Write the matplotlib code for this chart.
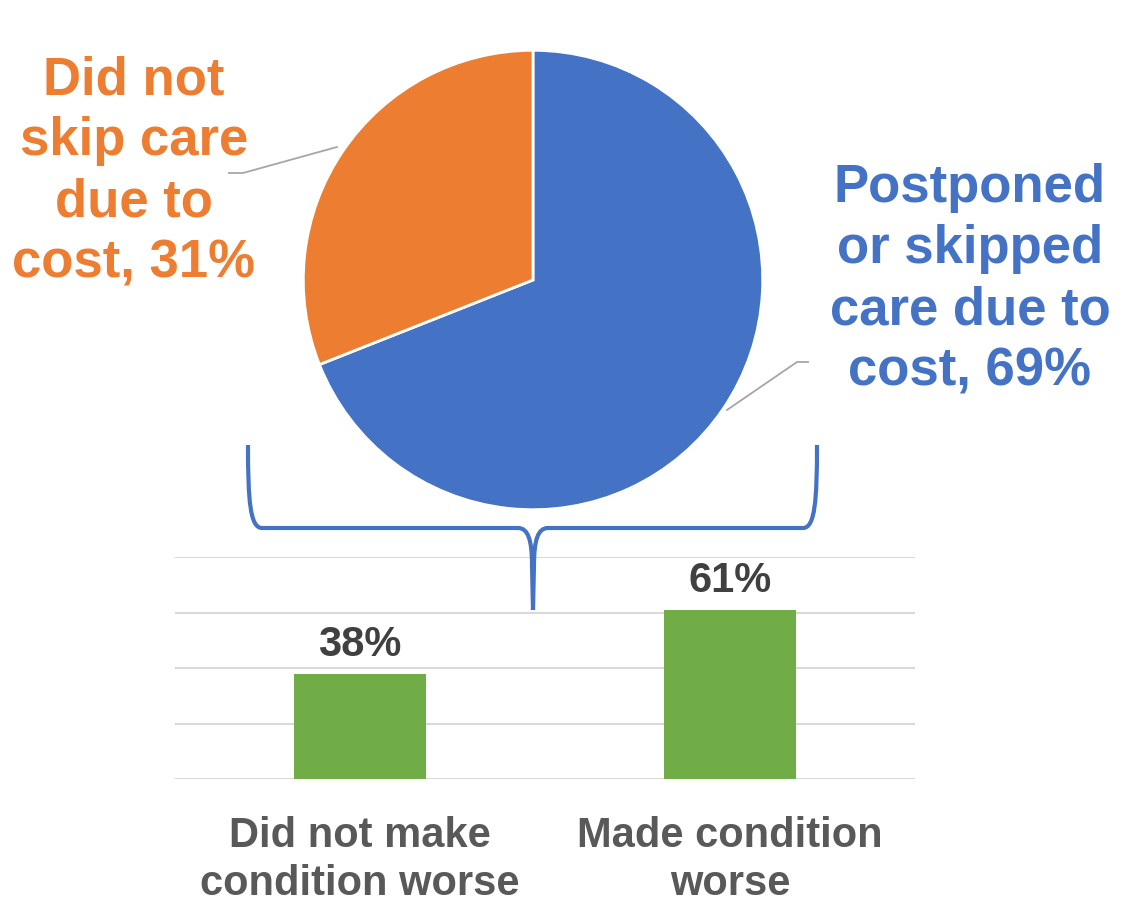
import numpy as np
import matplotlib
matplotlib.use("Agg")
import matplotlib.pyplot as plt
from matplotlib.path import Path
from matplotlib.patches import PathPatch
from matplotlib.lines import Line2D

# data
pie_labels = ["Postponed\nor skipped\ncare due to\ncost, 69%",
              "Did not\nskip care\ndue to\ncost, 31%"]
pie_values = [69, 31]
bar_categories = ["Did not make\ncondition worse", "Made condition\nworse"]
bar_values = [38, 61]
bar_text = ["38%", "61%"]

BLUE = "#4472C4"
ORANGE = "#ED7D31"
GREEN = "#70AD47"
GRID = "#D9D9D9"
LEADER = "#A6A6A6"
W, H = 1128, 902

plt.rcParams["font.family"] = ["Liberation Sans", "DejaVu Sans"]
fig = plt.figure(figsize=(W / 100, H / 100), dpi=100)


def px(x, y):
    return (x / W, 1 - y / H)


# pie
cx, cy, r = 533, 280, 232
ax_p = fig.add_axes([(cx - r) / W, 1 - (cy + r) / H, 2 * r / W, 2 * r / H])
ax_p.pie(pie_values, colors=[BLUE, ORANGE], startangle=90, counterclock=False,
         radius=1.0, wedgeprops=dict(edgecolor="white", linewidth=2))
ax_p.set_xlim(-1.01, 1.01)
ax_p.set_ylim(-1.01, 1.01)
ax_p.axis("off")

fig.text(*px(970, 280), pie_labels[0], color=BLUE, fontsize=38,
         fontweight="bold", ha="center", va="center", linespacing=1.29)
fig.text(*px(134, 172), pie_labels[1], color=ORANGE, fontsize=38,
         fontweight="bold", ha="center", va="center", linespacing=1.29)

for pts in ([(229, 173), (243, 173), (337, 147)],
            [(808, 362), (797, 362), (727, 410)]):
    xs, ys = zip(*[px(*p) for p in pts])
    fig.add_artist(Line2D(xs, ys, color=LEADER, lw=1.3,
                          transform=fig.transFigure))

# bracket
verts = [(248, 445), (248, 500), (250, 528), (262, 528),
         (518, 528),
         (528, 528), (532, 540), (532, 565),
         (533, 610)]
codes = [Path.MOVETO, Path.CURVE4, Path.CURVE4, Path.CURVE4,
         Path.LINETO,
         Path.CURVE4, Path.CURVE4, Path.CURVE4,
         Path.LINETO]
verts_r = [(817, 445), (817, 500), (815, 528), (803, 528),
           (548, 528),
           (538, 528), (534, 540), (534, 565),
           (533, 610)]
for vv in (verts, verts_r):
    path = Path([px(*p) for p in vv], codes)
    fig.add_artist(PathPatch(path, fill=False, edgecolor=BLUE, lw=3,
                             transform=fig.transFigure, capstyle="butt"))

# bars
ax_b = fig.add_axes([175 / W, 1 - 779 / H, 740 / W, 222 / H])
x = np.arange(len(bar_categories))
bars = ax_b.bar(x, bar_values, width=0.355, color=GREEN, zorder=2)
ax_b.bar_label(bars, labels=bar_text, padding=6, fontsize=30,
               fontweight="bold", color="#404040")
ax_b.set_xlim(-0.5, 1.5)
ax_b.set_ylim(0, 80)
ax_b.set_yticks([0, 20, 40, 60, 80])
ax_b.yaxis.grid(True, color=GRID, lw=1.5, zorder=0)
ax_b.tick_params(axis="y", left=False, labelleft=False)
ax_b.tick_params(axis="x", bottom=False, pad=23)
ax_b.set_xticks(x)
ax_b.set_xticklabels(bar_categories, fontsize=30, fontweight="bold",
                     color="#595959", linespacing=1.27)
for s in ax_b.spines.values():
    s.set_visible(False)
ax_b.set_facecolor("none")

fig.savefig("out.png", dpi=100)
